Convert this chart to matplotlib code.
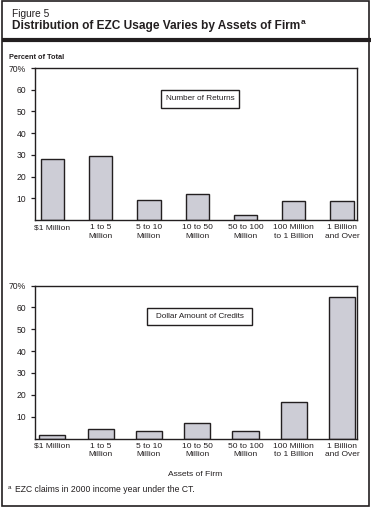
import matplotlib
matplotlib.use("Agg")
import matplotlib.pyplot as plt
from matplotlib.patches import Rectangle
from matplotlib.lines import Line2D

plt.rcParams['font.family'] = ['Liberation Sans', 'DejaVu Sans']

categories = ["$1 Million", "1 to 5\nMillion", "5 to 10\nMillion", "10 to 50\nMillion",
              "50 to 100\nMillion", "100 Million\nto 1 Billion", "1 Billion\nand Over"]
returns_pct = [28.2, 29.6, 9.2, 12.0, 2.2, 8.7, 8.7]
credits_pct = [1.6, 4.4, 3.5, 7.2, 3.5, 16.8, 64.7]
yticks = [10, 20, 30, 40, 50, 60, 70]
ytick_labels = ["10", "20", "30", "40", "50", "60", "70%"]

W, H = 372, 507
fig = plt.figure(figsize=(W / 100, H / 100), dpi=100)
fig.patch.set_facecolor("white")
INK = "#231f20"

def fx(px):
    return px / W

def fy(py):
    return 1 - py / H

# outer frame
fig.add_artist(Rectangle((fx(1.5), fy(505.5)), fx(369) - fx(1.5), fy(0.5) - fy(505.5),
                         transform=fig.transFigure, fill=False, lw=1.2, ec=INK))
# thick separator under title
fig.add_artist(Line2D([fx(1.5), fx(370.5)], [fy(40.3), fy(40.3)], transform=fig.transFigure,
                      lw=3.0, color=INK, solid_capstyle="butt"))

fig.text(fx(12), fy(14), "Figure 5", fontsize=7.3, ha="left", va="center", color=INK)
t = fig.text(fx(12), fy(26.5), "Distribution of EZC Usage Varies by Assets of Firm",
             fontsize=8.6, fontweight="bold", ha="left", va="center", color=INK)
fig.canvas.draw()
bb = t.get_window_extent(renderer=fig.canvas.get_renderer())
fig.text(bb.x1 / W + 0.002, fy(23), "a", fontsize=6.0, fontweight="bold", ha="left",
         va="center", color=INK)

fig.text(fx(9), fy(57.5), "Percent of Total", fontsize=5.3, fontweight="bold", ha="left",
         va="center", color=INK)

bar_color = "#cdcdd6"

def make_axes(bottom_px, top_px, values, box_text, box_rect, width):
    ax = fig.add_axes([fx(34.5), fy(bottom_px), fx(357) - fx(34.5), fy(top_px) - fy(bottom_px)])
    x = list(range(len(values)))
    ax.bar(x, values, width=width, color=bar_color, edgecolor=INK, linewidth=1.0)
    ax.set_xlim(-0.37, 6.31)
    ax.set_ylim(0, 70)
    ax.set_yticks(yticks)
    ax.set_yticklabels(ytick_labels)
    ax.set_xticks(x)
    ax.set_xticklabels(categories, fontsize=6.0, linespacing=1.3, color=INK)
    ax.tick_params(axis="x", length=0, pad=3)
    ax.tick_params(axis="y", length=3, width=0.9, direction="out", labelsize=6.2,
                   pad=3, colors=INK)
    for s in ax.spines.values():
        s.set_linewidth(1.0)
        s.set_color(INK)
    x0, y0, x1, y1 = box_rect
    fig.add_artist(Rectangle((fx(x0), fy(y1)), fx(x1) - fx(x0), fy(y0) - fy(y1),
                             transform=fig.transFigure, fc="white", ec=INK, lw=1.0))
    fig.text(fx((x0 + x1) / 2), fy((y0 + y1) / 2), box_text, fontsize=5.9, ha="center",
             va="center", color=INK)
    return ax

ax1 = make_axes(220, 68, returns_pct, "Number of Returns", (161, 90, 239, 108), 0.48)
ax2 = make_axes(438.5, 285.5, credits_pct, "Dollar Amount of Credits", (147, 308, 252, 325), 0.54)

fig.text(fx(195), fy(474), "Assets of Firm", fontsize=6.1, ha="center", va="center", color=INK)
fig.text(fx(8), fy(487.5), "a", fontsize=4.5, ha="left", va="center", color=INK)
fig.text(fx(15), fy(489.5), "EZC claims in 2000 income year under the CT.", fontsize=6.2,
         ha="left", va="center", color=INK)

fig.savefig("out.png", dpi=100, facecolor="white")
